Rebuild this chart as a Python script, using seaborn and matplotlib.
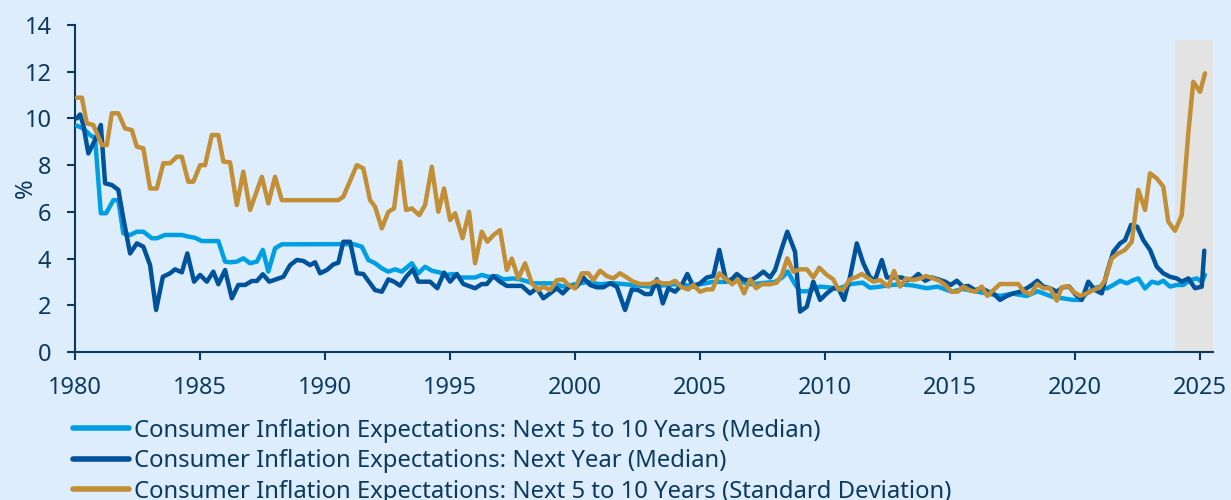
import numpy as np
import pandas as pd
import seaborn as sns
import matplotlib.pyplot as plt

# Consumer inflation expectations (decimal year, %)
lt_years = [1980.07, 1980.33, 1980.6, 1980.8, 1981.03, 1981.24, 1981.53, 1981.73, 1981.93, 1982.2,
            1982.47, 1982.73, 1983.07, 1983.27, 1983.6, 1984.27, 1984.53, 1984.8, 1985.07, 1985.73,
            1986.0, 1986.2, 1986.47, 1986.73, 1987.0, 1987.27, 1987.51, 1987.73, 1988.0, 1988.27,
            1991.13, 1991.47, 1991.73, 1992.0, 1992.27, 1992.53, 1992.8, 1993.07, 1993.47, 1993.73,
            1994.0, 1994.27, 1994.6, 1994.87, 1995.13, 1995.4, 1996.0, 1996.27, 1996.53, 1996.87,
            1997.13, 1997.53, 1997.8, 1998.33, 1999.13, 1999.53, 2000.0, 2000.5, 2001.0, 2001.5,
            2002.0, 2002.5, 2003.0, 2003.5, 2004.0, 2004.5, 2005.0, 2005.5, 2006.0, 2006.5,
            2007.0, 2007.5, 2008.0, 2008.3, 2008.5, 2008.8, 2009.0, 2009.3, 2009.8, 2010.3,
            2010.5, 2011.0, 2011.5, 2011.8, 2012.2, 2012.5, 2013.0, 2013.5, 2014.07, 2014.5,
            2015.07, 2015.5, 2016.0, 2016.5, 2017.0, 2017.5, 2018.07, 2018.5, 2019.13, 2019.5,
            2019.93, 2020.2, 2020.47, 2020.73, 2021.0, 2021.27, 2021.53, 2021.8, 2022.07, 2022.33,
            2022.53, 2022.8, 2023.07, 2023.33, 2023.53, 2023.8, 2024.07, 2024.33, 2024.6, 2024.87,
            2025.07, 2025.2]
lt_median = [9.69, 9.57, 9.29, 9.15, 5.94, 5.94, 6.5, 6.5, 5.08, 5.01,
             5.15, 5.15, 4.87, 4.87, 5.01, 5.01, 4.94, 4.89, 4.75, 4.75,
             3.87, 3.84, 3.87, 4.01, 3.8, 3.87, 4.37, 3.44, 4.44, 4.61,
             4.62, 4.51, 3.94, 3.8, 3.58, 3.44, 3.54, 3.44, 3.8, 3.37,
             3.65, 3.48, 3.4, 3.3, 3.34, 3.19, 3.19, 3.3, 3.22, 3.25,
             3.11, 3.15, 3.11, 2.94, 2.94, 2.8, 2.9, 3.0, 2.9, 2.95,
             2.9, 2.85, 2.8, 2.85, 2.9, 2.85, 2.9, 3.0, 3.0, 3.05,
             2.9, 2.95, 3.0, 3.2, 3.45, 2.9, 2.6, 2.6, 2.8, 2.75,
             2.7, 2.9, 2.97, 2.75, 2.8, 2.85, 2.9, 2.85, 2.73, 2.8,
             2.58, 2.7, 2.6, 2.5, 2.4, 2.5, 2.4, 2.6, 2.35, 2.3,
             2.23, 2.23, 2.51, 2.72, 2.8, 2.72, 2.87, 3.05, 2.94, 3.08,
             3.15, 2.72, 3.01, 2.94, 3.05, 2.8, 2.87, 2.87, 3.08, 3.15,
             3.01, 3.3]

ny_years = [1980.07, 1980.2, 1980.33, 1980.53, 1980.8, 1981.03, 1981.2, 1981.47, 1981.73, 1981.93,
            1982.2, 1982.47, 1982.73, 1983.0, 1983.24, 1983.51, 1983.8, 1984.0, 1984.27, 1984.49,
            1984.76, 1985.0, 1985.27, 1985.53, 1985.73, 1986.0, 1986.27, 1986.53, 1986.8, 1987.07,
            1987.27, 1987.51, 1987.77, 1988.07, 1988.33, 1988.6, 1988.87, 1989.13, 1989.4, 1989.6,
            1989.8, 1990.07, 1990.33, 1990.53, 1990.73, 1991.0, 1991.27, 1991.53, 1991.8, 1992.0,
            1992.27, 1992.53, 1992.76, 1993.0, 1993.24, 1993.51, 1993.73, 1994.2, 1994.49, 1994.76,
            1995.0, 1995.27, 1995.53, 1996.0, 1996.27, 1996.47, 1996.73, 1997.0, 1997.27, 1997.87,
            1998.2, 1998.47, 1998.73, 1999.0, 1999.27, 1999.51, 1999.77, 2000.07, 2000.33, 2000.6,
            2000.87, 2001.13, 2001.4, 2001.67, 2002.0, 2002.27, 2002.53, 2002.8, 2003.03, 2003.27,
            2003.51, 2003.73, 2004.0, 2004.27, 2004.49, 2004.73, 2005.0, 2005.27, 2005.53, 2005.77,
            2006.04, 2006.27, 2006.47, 2006.73, 2007.0, 2007.27, 2007.53, 2007.8, 2008.0, 2008.27,
            2008.49, 2008.8, 2009.0, 2009.27, 2009.53, 2009.8, 2010.07, 2010.33, 2010.53, 2010.76,
            2011.0, 2011.27, 2011.53, 2011.8, 2012.0, 2012.27, 2012.47, 2012.73, 2013.07, 2013.27,
            2013.53, 2013.73, 2014.0, 2014.27, 2014.53, 2014.8, 2015.03, 2015.27, 2015.51, 2015.73,
            2016.0, 2016.27, 2016.53, 2016.73, 2017.0, 2017.27, 2017.53, 2017.8, 2018.07, 2018.27,
            2018.49, 2018.73, 2019.0, 2019.27, 2019.51, 2019.77, 2020.0, 2020.27, 2020.53, 2020.8,
            2021.07, 2021.27, 2021.53, 2021.8, 2022.0, 2022.24, 2022.49, 2022.73, 2023.0, 2023.27,
            2023.53, 2023.8, 2024.07, 2024.27, 2024.53, 2024.8, 2025.07, 2025.17]
ny_median = [10.0, 10.17, 9.72, 8.5, 9.08, 9.72, 7.22, 7.15, 6.94, 5.72,
             4.22, 4.65, 4.51, 3.72, 1.8, 3.22, 3.37, 3.54, 3.41, 4.22,
             3.01, 3.3, 3.01, 3.44, 2.9, 3.51, 2.3, 2.87, 2.87, 3.04,
             3.04, 3.33, 3.01, 3.12, 3.22, 3.72, 3.94, 3.9, 3.72, 3.84,
             3.37, 3.51, 3.75, 3.82, 4.72, 4.72, 3.37, 3.34, 2.94, 2.65,
             2.58, 3.11, 3.01, 2.84, 3.22, 3.54, 3.01, 3.01, 2.73, 3.4,
             3.01, 3.34, 2.91, 2.73, 2.91, 2.91, 3.25, 3.01, 2.83, 2.83,
             2.51, 2.73, 2.3, 2.51, 2.73, 2.51, 2.8, 2.8, 3.19, 2.87,
             2.77, 2.77, 2.94, 2.8, 1.8, 2.68, 2.65, 2.48, 2.48, 3.11,
             2.08, 2.73, 2.58, 2.87, 3.34, 2.8, 2.94, 3.19, 3.25, 4.37,
             3.05, 3.11, 3.34, 3.11, 3.05, 3.22, 3.44, 3.19, 3.51, 4.44,
             5.15, 4.29, 1.73, 1.94, 3.01, 2.23, 2.51, 2.73, 2.73, 2.23,
             3.22, 4.65, 3.8, 3.19, 3.08, 3.94, 3.19, 3.19, 3.19, 3.08,
             3.15, 3.34, 3.05, 3.19, 3.11, 3.01, 2.87, 3.05, 2.8, 2.83,
             2.65, 2.73, 2.58, 2.51, 2.23, 2.4, 2.51, 2.58, 2.73, 2.87,
             3.05, 2.8, 2.73, 2.58, 2.77, 2.8, 2.48, 2.23, 3.01, 2.65,
             2.51, 3.37, 4.29, 4.65, 4.79, 5.44, 5.36, 4.79, 4.37, 3.65,
             3.37, 3.22, 3.15, 3.01, 3.15, 2.73, 2.8, 4.34]

sd_years = [1980.07, 1980.27, 1980.47, 1980.73, 1981.07, 1981.27, 1981.47, 1981.73, 1982.0, 1982.27,
            1982.47, 1982.73, 1983.0, 1983.27, 1983.53, 1983.8, 1984.07, 1984.27, 1984.53, 1984.73,
            1985.0, 1985.2, 1985.47, 1985.73, 1985.93, 1986.2, 1986.47, 1986.73, 1987.0, 1987.47,
            1987.73, 1988.0, 1988.27, 1990.53, 1990.73, 1991.27, 1991.53, 1991.8, 1992.0, 1992.27,
            1992.53, 1992.76, 1993.0, 1993.24, 1993.47, 1993.77, 1994.0, 1994.27, 1994.53, 1994.76,
            1995.0, 1995.2, 1995.5, 1995.76, 1996.0, 1996.27, 1996.49, 1996.73, 1997.0, 1997.27,
            1997.47, 1997.73, 1998.0, 1998.27, 1998.53, 1998.73, 1999.0, 1999.27, 1999.53, 1999.73,
            2000.0, 2000.27, 2000.53, 2000.73, 2001.0, 2001.27, 2001.53, 2001.8, 2002.07, 2002.33,
            2002.6, 2003.0, 2003.27, 2003.47, 2003.8, 2004.0, 2004.27, 2004.53, 2004.73, 2005.0,
            2005.27, 2005.5, 2005.77, 2006.04, 2006.29, 2006.51, 2006.76, 2007.0, 2007.24, 2007.47,
            2007.8, 2008.07, 2008.27, 2008.49, 2008.73, 2009.0, 2009.27, 2009.53, 2009.77, 2010.07,
            2010.33, 2010.53, 2010.73, 2011.0, 2011.27, 2011.47, 2011.73, 2011.93, 2012.2, 2012.53,
            2012.76, 2013.0, 2013.24, 2013.53, 2013.8, 2014.04, 2014.33, 2014.57, 2014.8, 2015.07,
            2015.31, 2015.53, 2015.77, 2016.0, 2016.27, 2016.49, 2016.73, 2017.0, 2017.73, 2017.96,
            2018.23, 2018.49, 2018.73, 2019.0, 2019.27, 2019.47, 2019.73, 2019.93, 2020.2, 2020.47,
            2020.73, 2021.0, 2021.2, 2021.47, 2021.73, 2022.0, 2022.27, 2022.53, 2022.8, 2023.0,
            2023.27, 2023.53, 2023.73, 2024.0, 2024.27, 2024.53, 2024.73, 2025.0, 2025.2]
sd_values = [10.89, 10.89, 9.79, 9.72, 8.86, 8.86, 10.22, 10.22, 9.57, 9.5,
             8.79, 8.72, 7.0, 7.0, 8.08, 8.08, 8.36, 8.36, 7.29, 7.29,
             8.0, 8.0, 9.29, 9.29, 8.15, 8.12, 6.29, 7.72, 6.08, 7.5,
             6.36, 7.5, 6.5, 6.5, 6.65, 8.0, 7.86, 6.5, 6.22, 5.29,
             6.0, 6.15, 8.15, 6.08, 6.15, 5.86, 6.29, 7.93, 6.0, 7.0,
             5.65, 5.94, 4.87, 6.0, 3.8, 5.15, 4.72, 5.0, 5.22, 3.51,
             4.0, 3.15, 3.8, 2.94, 2.65, 2.8, 2.65, 3.08, 3.1, 2.87,
             2.72, 3.37, 3.37, 3.08, 3.48, 3.25, 3.15, 3.37, 3.19, 3.01,
             2.91, 2.91, 3.05, 2.94, 2.94, 3.05, 2.77, 2.68, 2.87, 2.58,
             2.68, 2.68, 3.37, 3.11, 2.9, 3.11, 2.51, 3.11, 2.73, 2.9,
             2.9, 2.97, 3.3, 4.01, 3.44, 3.54, 3.54, 3.19, 3.61, 3.3,
             3.11, 2.68, 2.68, 3.11, 3.22, 3.34, 3.15, 3.01, 3.08, 2.8,
             3.47, 2.8, 3.15, 3.08, 3.15, 3.25, 3.15, 3.05, 2.87, 2.58,
             2.58, 2.8, 2.65, 2.58, 2.8, 2.4, 2.65, 2.91, 2.91, 2.58,
             2.48, 2.91, 2.73, 2.73, 2.2, 2.77, 2.82, 2.58, 2.4, 2.51,
             2.65, 2.77, 3.08, 4.01, 4.22, 4.37, 4.72, 6.94, 6.08, 7.65,
             7.43, 7.08, 5.58, 5.19, 5.86, 9.36, 11.57, 11.14, 11.93]

labels = ["Consumer Inflation Expectations: Next 5 to 10 Years (Median)",
          "Consumer Inflation Expectations: Next Year (Median)",
          "Consumer Inflation Expectations: Next 5 to 10 Years (Standard Deviation)"]
colors = ["#009fe3", "#00529b", "#c28f36"]

df = pd.concat([
    pd.DataFrame({"year": lt_years, "value": lt_median, "series": labels[0]}),
    pd.DataFrame({"year": ny_years, "value": ny_median, "series": labels[1]}),
    pd.DataFrame({"year": sd_years, "value": sd_values, "series": labels[2]}),
])

bg = "#ddedfc"
ink = "#0b3a5e"

sns.set_style("ticks")
plt.rcParams["font.family"] = ["Noto Sans", "DejaVu Sans"]

fig = plt.figure(figsize=(12.31, 5.0), dpi=100, facecolor=bg)
ax = fig.add_axes([0.061, 0.296, 0.924, 0.654], facecolor=bg)

# shaded recent period
ax.axvspan(2024.0, 2025.5, ymin=0, ymax=13.35 / 14, color="#e3e3e3", lw=0, zorder=0)

sns.lineplot(data=df, x="year", y="value", hue="series", hue_order=labels,
             palette=colors, linewidth=3.2, ax=ax, legend="brief", zorder=3)

ax.set_xlim(1980, 2025.5)
ax.set_ylim(0, 14)
ax.set_xticks(range(1980, 2026, 5))
ax.set_yticks(range(0, 15, 2))
ax.set_xlabel("")
ax.set_ylabel("%", fontsize=17, color=ink)
ax.yaxis.set_label_coords(-0.043, 0.5)
ax.yaxis.label.set_verticalalignment("center")
ax.tick_params(colors=ink, labelsize=17, length=6, width=1.5, pad=11)
for s in ["left", "bottom"]:
    ax.spines[s].set_color(ink)
    ax.spines[s].set_linewidth(1.5)
for s in ["top", "right"]:
    ax.spines[s].set_visible(False)

handles, _ = ax.get_legend_handles_labels()
for h in handles:
    h.set_linewidth(4)
leg = ax.legend(handles, labels, loc="upper left", bbox_to_anchor=(-0.01, -0.175),
                frameon=False, fontsize=17.2, handlelength=2.35, handletextpad=0.2,
                labelspacing=0.27, borderaxespad=0)
for t in leg.get_texts():
    t.set_color(ink)

fig.savefig("out.png", dpi=100, facecolor=bg)
